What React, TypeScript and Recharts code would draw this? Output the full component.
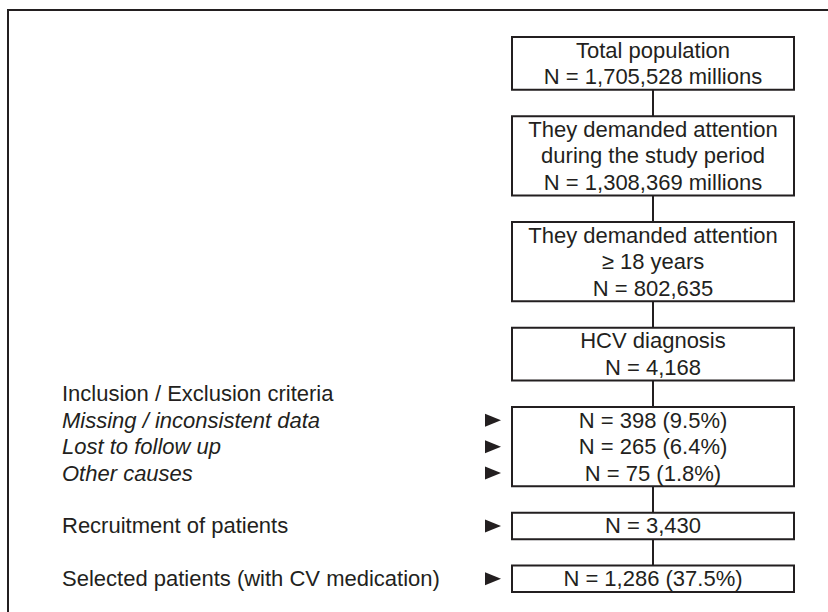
import React from "react";
import {
  ScatterChart,
  Scatter,
  XAxis,
  YAxis,
  ReferenceArea,
  ReferenceLine,
} from "recharts";

// flow stages (top to bottom), text lines shown in each box
const stageLines: string[][] = [
  ["Total population", "N = 1,705,528 millions"],
  ["They demanded attention", "during the study period", "N = 1,308,369 millions"],
  ["They demanded attention", "≥ 18 years", "N = 802,635"],
  ["HCV diagnosis", "N = 4,168"],
  ["N = 398 (9.5%)", "N = 265 (6.4%)", "N = 75 (1.8%)"],
  ["N = 3,430"],
  ["N = 1,286 (37.5%)"],
];

// labels on the left, one per line of the matching stage box
const sideLabels: string[][] = [
  [],
  [],
  [],
  [],
  ["Missing / inconsistent data", "Lost to follow up", "Other causes"],
  ["Recruitment of patients"],
  ["Selected patients (with CV medication)"],
];
const italicStages = [4];
const sectionTitle = "Inclusion / Exclusion criteria";
const sectionBefore = 4;

const INK = "#231f20";
const FONT = "'Liberation Sans', Arial, Helvetica, sans-serif";
const BOX_X1 = 512;
const BOX_X2 = 794;
const BOX_MID = (BOX_X1 + BOX_X2) / 2;
const LABEL_X = 62;
const ARROW_X = 493;

// lay the boxes out in row units: one row per text line, one row gap
let cursor = 0;
const boxes = stageLines.map((lines) => {
  const top = cursor;
  const bottom = cursor + lines.length;
  cursor = bottom + 1;
  return { top, bottom };
});
const totalRows = boxes[boxes.length - 1].bottom;

const boxText = stageLines.flatMap((lines, i) =>
  lines.map((text, j) => ({ x: BOX_MID, y: boxes[i].top + j + 0.5, text }))
);
const leftText = [
  { x: LABEL_X, y: boxes[sectionBefore].top - 0.5, text: sectionTitle, italic: false },
  ...sideLabels.flatMap((lines, i) =>
    lines.map((text, j) => ({
      x: LABEL_X,
      y: boxes[i].top + j + 0.5,
      text,
      italic: italicStages.includes(i),
    }))
  ),
];
const arrows = sideLabels.flatMap((lines, i) =>
  lines.map((_, j) => ({ x: ARROW_X, y: boxes[i].top + j + 0.5 }))
);

const CenterText = (props: any) => (
  <text
    x={props.cx}
    y={props.cy}
    textAnchor="middle"
    dominantBaseline="central"
    fontFamily={FONT}
    fontSize={22}
    fill={INK}
  >
    {props.payload.text}
  </text>
);

const LeftText = (props: any) => (
  <text
    x={props.cx}
    y={props.cy}
    textAnchor="start"
    dominantBaseline="central"
    fontFamily={FONT}
    fontSize={22}
    fontStyle={props.payload.italic ? "italic" : "normal"}
    fill={INK}
  >
    {props.payload.text}
  </text>
);

const Arrow = (props: any) => {
  const { cx, cy } = props;
  return (
    <polygon
      points={`${cx - 8},${cy - 6.5} ${cx + 8},${cy} ${cx - 8},${cy + 6.5}`}
      fill={INK}
    />
  );
};

const App = () => {
  return (
    <div
      style={{
        position: "absolute",
        left: 0,
        top: 0,
        width: 828,
        height: 612,
        background: "#fff",
      }}
    >
      <div
        style={{
          position: "absolute",
          left: 7,
          top: 9,
          width: 840,
          height: 640,
          borderLeft: `2px solid ${INK}`,
          borderTop: `2px solid ${INK}`,
        }}
      />
      <div style={{ position: "absolute", left: 0, top: 0 }}>
        <ScatterChart
          width={828}
          height={612}
          margin={{ top: 37, right: 0, bottom: 20, left: 0 }}
        >
          <XAxis type="number" dataKey="x" domain={[0, 828]} hide />
          <YAxis type="number" dataKey="y" domain={[0, totalRows]} reversed hide />
          {boxes.map((b, i) => (
            <ReferenceArea
              key={`box-${i}`}
              x1={BOX_X1}
              x2={BOX_X2}
              y1={b.top}
              y2={b.bottom}
              fill="none"
              fillOpacity={0}
              stroke={INK}
              strokeWidth={2}
            />
          ))}
          {boxes.slice(1).map((b, i) => (
            <ReferenceLine
              key={`link-${i}`}
              segment={[
                { x: BOX_MID, y: boxes[i].bottom },
                { x: BOX_MID, y: b.top },
              ]}
              stroke={INK}
              strokeWidth={2}
            />
          ))}
          <Scatter data={boxText} shape={CenterText} isAnimationActive={false} />
          <Scatter data={leftText} shape={LeftText} isAnimationActive={false} />
          <Scatter data={arrows} shape={Arrow} isAnimationActive={false} />
        </ScatterChart>
      </div>
    </div>
  );
};

export default App;
